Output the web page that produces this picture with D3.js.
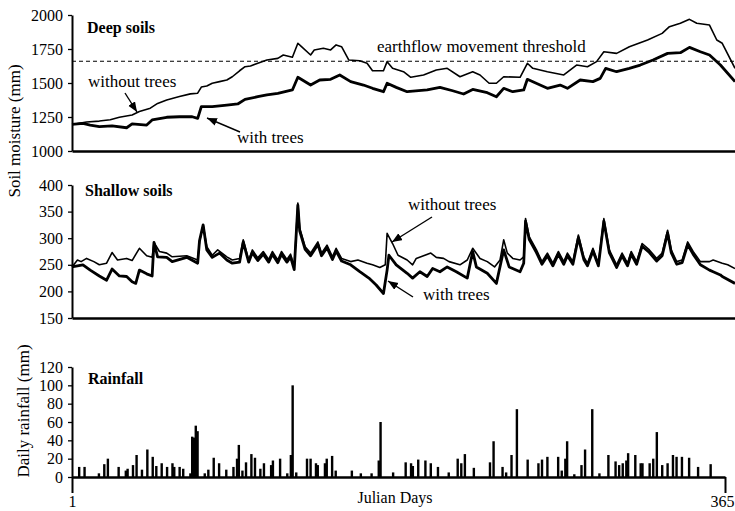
<!DOCTYPE html>
<html>
<head>
<meta charset="utf-8">
<script src="https://cdn.jsdelivr.net/npm/d3@7"></script>
<style>
  body { margin: 0; background: #fff; }
  text { font-family: "Liberation Serif", "Times New Roman", serif; fill: #000; }
</style>
</head>
<body>
<script>
const width = 735, height = 511;

// deep soils, [julian day, soil moisture mm]
const deepWithout = [[1,1195],[9,1213],[16,1220],[22,1230],[27,1248],[34,1265],[38,1290],[44,1315],[48,1350],[53,1375],[60,1400],[66,1420],[70,1425],[72,1470],[75,1478],[78,1498],[82,1510],[86,1522],[89,1546],[93,1590],[96,1620],[99,1625],[103,1645],[108,1669],[114,1681],[117,1706],[122,1689],[125,1792],[127,1767],[132,1706],[134,1743],[139,1755],[143,1743],[146,1780],[149,1767],[153,1669],[159,1664],[163,1645],[166,1590],[172,1590],[174,1657],[177,1608],[183,1583],[187,1542],[194,1559],[201,1596],[207,1608],[214,1546],[221,1583],[225,1559],[230,1498],[234,1498],[238,1546],[247,1542],[251,1645],[254,1608],[262,1583],[271,1559],[278,1632],[284,1620],[289,1657],[293,1730],[300,1718],[307,1767],[317,1816],[325,1865],[329,1914],[335,1939],[340,1968],[344,1939],[351,1926],[355,1816],[358,1792],[365,1608]];
const deepWith = [[1,1195],[7,1203],[11,1191],[16,1179],[23,1184],[31,1171],[34,1199],[42,1191],[45,1228],[53,1248],[60,1252],[67,1252],[70,1240],[72,1326],[78,1326],[86,1338],[92,1346],[96,1380],[103,1399],[108,1412],[114,1424],[122,1449],[125,1542],[132,1485],[137,1522],[143,1527],[148,1559],[154,1510],[161,1485],[166,1461],[172,1436],[174,1498],[179,1468],[185,1436],[196,1449],[203,1468],[210,1443],[216,1419],[221,1453],[229,1429],[234,1399],[238,1461],[243,1436],[249,1449],[251,1527],[258,1485],[262,1461],[269,1485],[273,1461],[280,1522],[287,1510],[291,1534],[294,1608],[300,1583],[307,1608],[313,1632],[320,1669],[328,1718],[335,1723],[340,1762],[346,1730],[351,1706],[357,1632],[365,1510]];
const threshold = 1660;

// shallow soils, [julian day, soil moisture mm]
const shallowWithout = [[1,246],[4,259],[6,256],[9,262],[13,256],[16,250],[20,253],[23,273],[26,259],[31,262],[34,258],[38,281],[42,267],[45,264],[46,292],[49,275],[53,272],[56,265],[64,267],[70,259],[71,293],[73,325],[75,284],[78,268],[81,278],[86,265],[89,259],[93,262],[95,297],[98,259],[100,278],[103,263],[106,275],[109,260],[111,275],[114,259],[116,275],[119,260],[121,270],[123,246],[125,366],[126,319],[129,284],[132,272],[136,293],[138,272],[141,287],[144,265],[146,281],[149,262],[154,256],[158,259],[163,253],[166,250],[170,245],[173,250],[174,309],[177,290],[180,268],[185,259],[188,250],[190,262],[194,267],[198,272],[201,264],[205,262],[208,256],[214,250],[218,259],[221,281],[225,262],[229,256],[233,246],[236,259],[238,297],[240,272],[243,262],[247,259],[249,265],[250,337],[252,303],[256,278],[259,256],[262,272],[265,253],[268,275],[271,256],[273,272],[276,256],[279,306],[282,265],[284,253],[287,281],[290,253],[293,337],[296,278],[300,250],[303,272],[306,253],[308,275],[311,256],[314,290],[318,278],[322,262],[325,272],[328,315],[330,278],[333,256],[336,259],[339,293],[342,275],[346,256],[351,256],[353,259],[358,253],[361,250],[365,243]];
const shallowWith = [[1,246],[7,250],[11,240],[16,229],[20,221],[23,242],[27,229],[31,228],[34,218],[36,215],[38,240],[42,233],[45,229],[46,292],[48,265],[53,264],[56,256],[64,264],[70,253],[71,295],[73,325],[75,278],[78,264],[82,272],[86,259],[89,253],[93,255],[95,293],[98,255],[100,273],[103,258],[106,270],[109,255],[111,270],[114,254],[116,270],[119,255],[121,265],[123,241],[125,362],[126,314],[129,279],[132,267],[136,288],[138,267],[141,282],[144,260],[146,276],[149,257],[154,250],[159,237],[164,225],[168,212],[172,196],[174,240],[175,268],[179,250],[185,234],[188,225],[192,237],[196,228],[199,243],[203,237],[207,246],[212,237],[218,225],[221,275],[223,246],[229,234],[234,215],[238,278],[241,246],[247,237],[249,253],[250,332],[252,298],[256,273],[259,251],[262,267],[265,248],[268,270],[271,251],[273,267],[276,251],[279,301],[282,260],[284,248],[287,276],[290,248],[293,332],[296,273],[300,245],[303,267],[306,248],[308,270],[311,251],[314,285],[318,273],[322,257],[325,267],[328,310],[330,273],[333,251],[336,254],[339,288],[342,270],[346,250],[351,240],[353,237],[357,231],[358,228],[365,215]];

// daily rainfall, [julian day, mm]
const rainfall = [[5,11],[8,11],[16,4],[19,14],[21,20],[27,11],[31,7],[32,9],[35,13],[37,24],[40,8],[43,30],[46,22],[48,12],[51,15],[54,11],[57,15],[58,11],[61,11],[63,9],[67,4],[68,44],[69,43],[70,56],[71,50],[75,4],[77,8],[80,21],[83,15],[87,8],[91,11],[93,20],[94,35],[96,7],[98,16],[101,25],[103,21],[106,9],[108,15],[112,13],[113,18],[117,20],[121,4],[123,24],[124,100],[126,5],[132,20],[134,20],[137,15],[138,13],[142,15],[143,20],[146,23],[148,7],[157,7],[162,4],[168,4],[172,18],[173,60],[180,5],[187,16],[190,15],[191,12],[194,19],[198,18],[201,15],[205,11],[211,5],[216,20],[218,15],[220,25],[225,10],[234,16],[236,39],[241,11],[243,5],[246,24],[249,74],[255,19],[261,15],[263,19],[266,22],[272,22],[274,7],[276,20],[277,39],[281,3],[285,13],[287,30],[291,74],[295,4],[300,24],[304,17],[306,13],[308,15],[310,18],[311,26],[315,24],[318,15],[319,15],[323,15],[325,20],[327,49],[330,13],[333,15],[336,24],[338,22],[341,22],[345,21],[350,11],[357,14]];

const deepTicks = [1000, 1250, 1500, 1750, 2000];
const shallowTicks = [150, 200, 250, 300, 350, 400];
const rainTicks = [0, 20, 40, 60, 80, 100, 120];
const dayTicks = [1, 365];

const svg = d3.select('body').append('svg')
    .attr('width', width)
    .attr('height', height);

const defs = svg.append('defs');
defs.append('marker')
    .attr('id', 'arrow')
    .attr('markerUnits', 'userSpaceOnUse')
    .attr('markerWidth', 12).attr('markerHeight', 10)
    .attr('refX', 10).attr('refY', 4)
    .attr('orient', 'auto')
    .append('path')
    .attr('d', 'M0,0 L10,4 L0,8 Z')
    .attr('fill', '#000');

// scales
var xTop = d3.scaleLinear().domain([1, 365]).range([72, 735]);
var xBot = d3.scaleLinear().domain([1, 365]).range([72, 725]);
var yDeep = d3.scaleLinear().domain([1000, 2000]).range([151, 15]);
var yShallow = d3.scaleLinear().domain([150, 400]).range([318, 185]);
var yRain = d3.scaleLinear().domain([0, 120]).range([477, 367]);

function styleAxis(g, w) {
    g.attr('font-family', '"Liberation Serif", serif').attr('font-size', 16);
    g.select('.domain').attr('stroke', '#000').attr('stroke-width', w);
    g.selectAll('.tick line').attr('stroke', '#000').attr('stroke-width', 1.3);
    g.selectAll('.tick text')
        .style('font-family', '"Liberation Serif", serif')
        .style('font-size', '16px')
        .attr('fill', '#000');
}

function yAxis(scale, ticks) {
    var g = svg.append('g')
        .attr('transform', 'translate(72,0)')
        .call(d3.axisLeft(scale).tickValues(ticks).tickSize(4).tickSizeOuter(0).tickPadding(5).tickFormat(d3.format('d')));
    styleAxis(g, 2);
}

function xAxisPlain(scale, y) {
    var g = svg.append('g')
        .attr('transform', 'translate(0,' + y + ')')
        .call(d3.axisBottom(scale).tickValues([]).tickSizeOuter(0));
    styleAxis(g, 2.6);
}

yAxis(yDeep, deepTicks);
yAxis(yShallow, shallowTicks);
yAxis(yRain, rainTicks);
xAxisPlain(xTop, yDeep(1000));
xAxisPlain(xTop, yShallow(150));

var gx = svg.append('g')
    .attr('transform', 'translate(0,' + yRain(0) + ')')
    .call(d3.axisBottom(xBot).tickValues(dayTicks).tickSize(16).tickSizeOuter(0).tickPadding(3).tickFormat(d3.format('d')));
styleAxis(gx, 2.6);
gx.selectAll('.tick line').attr('stroke-width', 2);
gx.selectAll('.tick text').filter(function (d) { return d === 365; }).attr('dx', -3);

// threshold
svg.append('line')
    .attr('x1', xTop(1)).attr('x2', xTop(365))
    .attr('y1', yDeep(threshold)).attr('y2', yDeep(threshold))
    .attr('stroke', '#000')
    .attr('stroke-width', 1.2)
    .attr('stroke-dasharray', '4,3');

// soil lines
function drawLine(data, yScale, w) {
    var line = d3.line()
        .x(function (d) { return xTop(d[0]); })
        .y(function (d) { return yScale(d[1]); });
    svg.append('path')
        .datum(data)
        .attr('d', line)
        .attr('fill', 'none')
        .attr('stroke', '#000')
        .attr('stroke-width', w)
        .attr('stroke-linejoin', 'round');
}

drawLine(deepWithout, yDeep, 1.6);
drawLine(deepWith, yDeep, 2.8);
drawLine(shallowWithout, yShallow, 1.6);
drawLine(shallowWith, yShallow, 2.8);

// rainfall bars
svg.append('g')
    .selectAll('rect')
    .data(rainfall)
    .enter().append('rect')
    .attr('x', function (d) { return xBot(d[0]) - 1.2; })
    .attr('width', 2.4)
    .attr('y', function (d) { return yRain(d[1]); })
    .attr('height', function (d) { return yRain(0) - yRain(d[1]); })
    .attr('fill', '#000');

// labels
function label(txt, x, y, size, bold) {
    return svg.append('text')
        .attr('x', x).attr('y', y)
        .style('font-size', size + 'px')
        .style('font-weight', bold ? 'bold' : 'normal')
        .text(txt);
}

label('Deep soils', 87, 33, 16, true);
label('Shallow soils', 85, 196, 16, true);
label('Rainfall', 88, 384, 16, true);
label('earthflow movement threshold', 377, 52, 17, false);
label('without trees', 88, 87, 17, false);
label('with trees', 237, 143, 17, false);
label('without trees', 408, 210, 17, false);
label('with trees', 423, 300, 17, false);
label('Julian Days', 395, 503, 16, false).attr('text-anchor', 'middle');

svg.append('text')
    .attr('transform', 'translate(20,131) rotate(-90)')
    .attr('text-anchor', 'middle')
    .style('font-size', '17px')
    .text('Soil moisture (mm)');
svg.append('text')
    .attr('transform', 'translate(29,411) rotate(-90)')
    .attr('text-anchor', 'middle')
    .style('font-size', '17px')
    .text('Daily rainfall (mm)');

// arrows
var arrows = [
    [125, 93, 137, 112],
    [240, 132, 207, 118],
    [432, 217, 392, 242],
    [413, 297, 388, 281]
];
svg.append('g')
    .selectAll('line')
    .data(arrows)
    .enter().append('line')
    .attr('x1', function (d) { return d[0]; })
    .attr('y1', function (d) { return d[1]; })
    .attr('x2', function (d) { return d[2]; })
    .attr('y2', function (d) { return d[3]; })
    .attr('stroke', '#000')
    .attr('stroke-width', 1.4)
    .attr('marker-end', 'url(#arrow)');
</script>
</body>
</html>
